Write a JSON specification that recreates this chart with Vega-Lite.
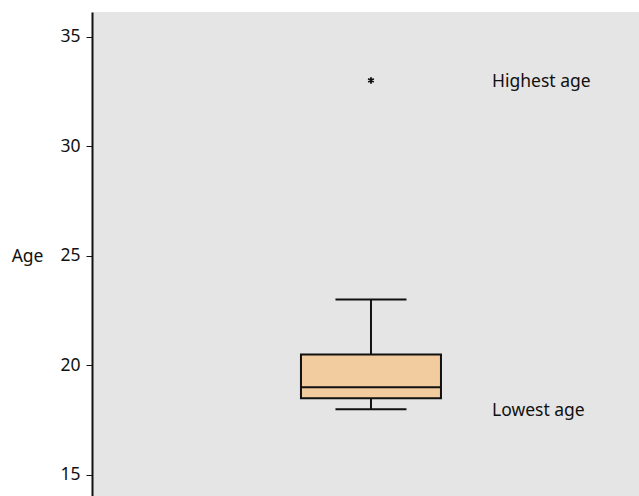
{
  "$schema": "https://vega.github.io/schema/vega-lite/v6.json",
  "width": 547,
  "height": 484,
  "autosize": {"type": "none"},
  "padding": {"left": 92, "top": 12, "right": 0, "bottom": 0},
  "background": "white",
  "config": {
    "view": {"fill": "#e5e5e5", "stroke": null},
    "font": "Noto Sans"
  },
  "datasets": {
    "summary": [
      {"sample": "Age", "lower": 18, "q1": 18.5, "median": 19, "q3": 20.5, "upper": 23}
    ],
    "outliers": [
      {"sample": "Age", "age": 33}
    ],
    "notes": [
      {"sample": "Age", "age": 33, "label": "Highest age"},
      {"sample": "Age", "age": 18, "label": "Lowest age"}
    ]
  },
  "layer": [
    {
      "data": {"name": "summary"},
      "mark": {"type": "rule", "stroke": "#111111", "strokeWidth": 2},
      "encoding": {
        "x": {"field": "sample", "type": "nominal"},
        "y": {"field": "lower", "type": "quantitative"},
        "y2": {"field": "upper"}
      }
    },
    {
      "data": {"name": "summary"},
      "mark": {"type": "bar", "width": 140, "fill": "#f2cc9e", "stroke": "#111111", "strokeWidth": 2},
      "encoding": {
        "x": {"field": "sample", "type": "nominal"},
        "y": {"field": "q1", "type": "quantitative"},
        "y2": {"field": "q3"}
      }
    },
    {
      "data": {"name": "summary"},
      "mark": {"type": "tick", "color": "#111111", "thickness": 2, "size": 140, "opacity": 1},
      "encoding": {
        "x": {"field": "sample", "type": "nominal"},
        "y": {"field": "median", "type": "quantitative"}
      }
    },
    {
      "data": {"name": "summary"},
      "mark": {"type": "tick", "color": "#111111", "thickness": 2, "size": 71, "opacity": 1},
      "encoding": {
        "x": {"field": "sample", "type": "nominal"},
        "y": {"field": "lower", "type": "quantitative"}
      }
    },
    {
      "data": {"name": "summary"},
      "mark": {"type": "tick", "color": "#111111", "thickness": 2, "size": 71, "opacity": 1},
      "encoding": {
        "x": {"field": "sample", "type": "nominal"},
        "y": {"field": "upper", "type": "quantitative"}
      }
    },
    {
      "data": {"name": "outliers"},
      "mark": {
        "type": "point",
        "shape": "M0,-1L0,1M-0.87,-0.5L0.87,0.5M-0.87,0.5L0.87,-0.5",
        "filled": false,
        "stroke": "#111111",
        "strokeWidth": 1.8,
        "size": 42,
        "opacity": 1
      },
      "encoding": {
        "x": {"field": "sample", "type": "nominal"},
        "y": {"field": "age", "type": "quantitative"}
      }
    },
    {
      "data": {"name": "notes"},
      "mark": {"type": "text", "align": "left", "baseline": "middle", "dx": 121, "dy": 2, "fontSize": 17.5, "color": "#111111"},
      "encoding": {
        "x": {"field": "sample", "type": "nominal"},
        "y": {"field": "age", "type": "quantitative"},
        "text": {"field": "label"}
      }
    }
  ],
  "encoding": {
    "x": {
      "field": "sample",
      "type": "nominal",
      "axis": null,
      "scale": {"paddingInner": 0, "paddingOuter": 1.44, "align": 0.515}
    },
    "y": {
      "type": "quantitative",
      "title": "Age",
      "scale": {"domain": [14.04, 36.12], "nice": false, "zero": false},
      "axis": {
        "values": [15, 20, 25, 30, 35],
        "grid": false,
        "domainColor": "#111111",
        "domainWidth": 2,
        "tickColor": "#111111",
        "tickWidth": 1,
        "tickSize": 6,
        "labelFontSize": 17.5,
        "labelColor": "#111111",
        "labelPadding": 6,
        "titleAngle": 0,
        "titleFontSize": 17.5,
        "titleFontWeight": "normal",
        "titleColor": "#111111",
        "titleAlign": "right",
        "titleBaseline": "middle",
        "titleX": -49,
        "titleY": 244
      }
    }
  }
}
